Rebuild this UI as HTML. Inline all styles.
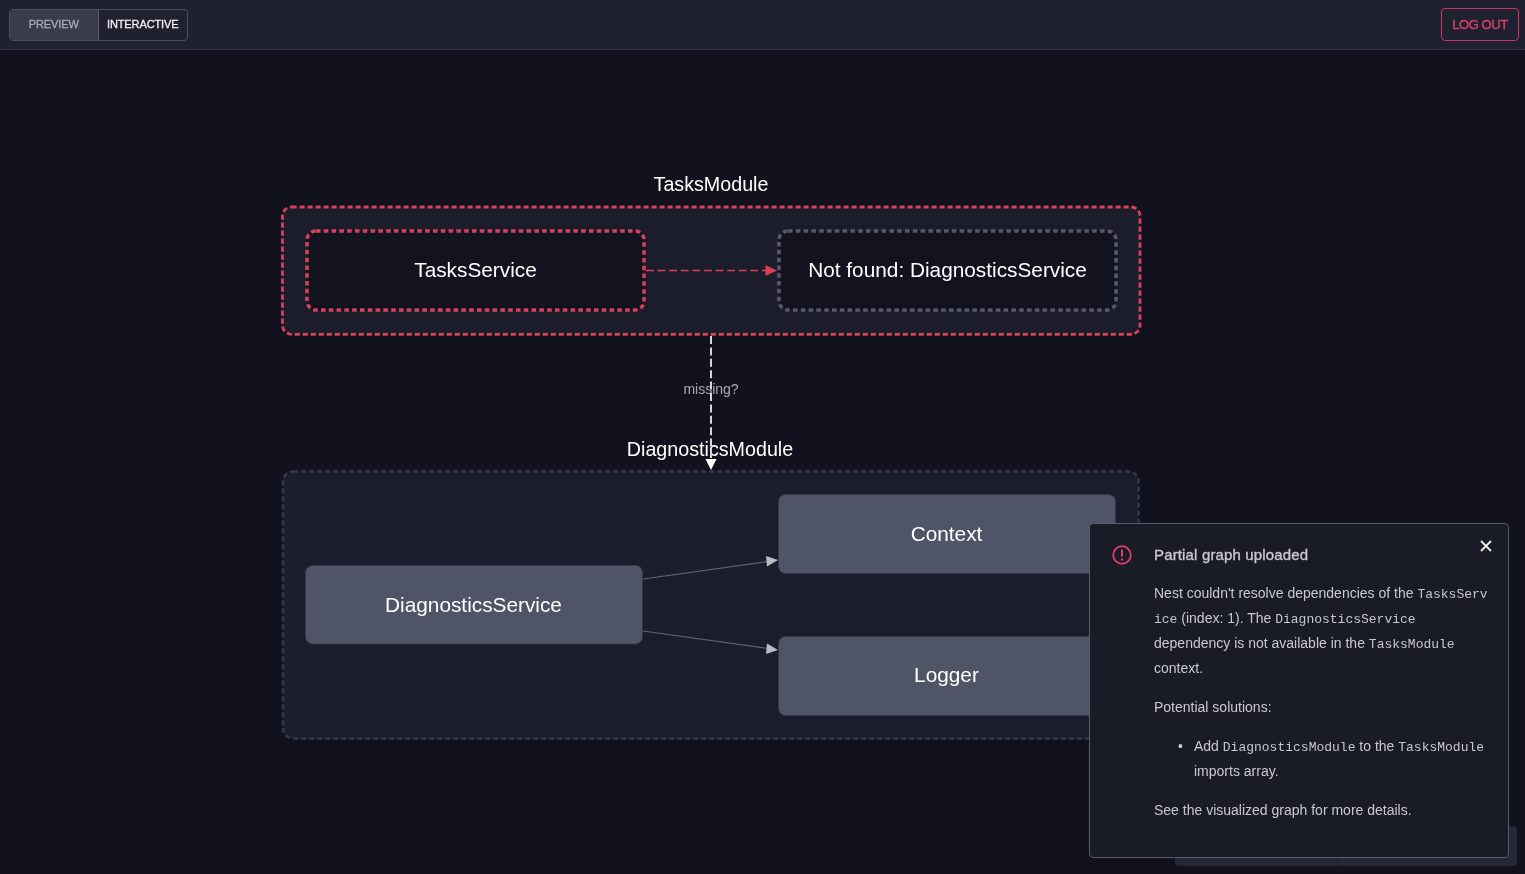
<!DOCTYPE html>
<html><head><meta charset="utf-8">
<style>
*{margin:0;padding:0;box-sizing:border-box}
html,body{width:1525px;height:874px;overflow:hidden;background:#11121d;font-family:"Liberation Sans",sans-serif}
#hdr{will-change:transform;position:absolute;left:0;top:0;width:1525px;height:50px;background:#1f2131;border-bottom:1px solid #2c2f42}
.bg{position:absolute;left:9px;top:9px;width:179px;height:32px;border:1px solid #4a4d5e;border-radius:4px;overflow:hidden;display:flex}
.bg div{height:30px;line-height:28px;text-align:center;font-size:11px;-webkit-text-stroke:0.3px currentColor;letter-spacing:-0.1px}
.b1{width:89px;background:#3a3c4b;color:#a9abb6;border-right:1px solid #55586a}
.b2{width:89px;color:#f0f0f4}
.lo{position:absolute;left:1441px;top:8px;width:78px;height:33px;border:1px solid #c9365e;border-radius:4px;color:#e0406a;font-size:13px;-webkit-text-stroke:0.3px currentColor;text-align:center;line-height:31px;letter-spacing:-0.4px}
svg{position:absolute;left:0;top:0}
.lbl{position:absolute;color:#fff;white-space:nowrap;text-align:center;will-change:transform}
#toast{position:absolute;left:1089px;top:523px;width:420px;height:335px;background:#191b27;border:1px solid #585b6a;border-radius:4px;color:#c8c9d2;font-size:14px}
#toast p{position:absolute;left:64px;white-space:nowrap;will-change:transform}
code{font-family:"Liberation Mono",monospace;font-size:13px;color:#c6c7cf;line-height:1px}
</style></head><body>
<div id="hdr">
  <div class="bg"><div class="b1">PREVIEW</div><div class="b2">INTERACTIVE</div></div>
  <div class="lo">LOG OUT</div>
</div>

<!-- behind toast -->
<div style="position:absolute;left:1175px;top:826px;width:342px;height:40px;background:#262838;border-radius:4px"></div>
<div style="position:absolute;left:1337px;top:826px;width:1px;height:40px;background:#1c1e2b"></div>

<svg width="1525" height="874" viewBox="0 0 1525 874">
  <!-- TasksModule -->
  <rect x="282.5" y="207" width="857.5" height="127.3" rx="9" fill="#1c1d2b" stroke="#d9405e" stroke-width="2.8" stroke-dasharray="5.2 2.8"/>
  <rect x="307" y="231" width="337" height="79" rx="9" fill="#13131f" stroke="#d9405e" stroke-width="3.5" stroke-dasharray="4.5 3.3"/>
  <rect x="779" y="231" width="337" height="79" rx="9" fill="#13131f" stroke="#565968" stroke-width="3.6" stroke-dasharray="4.5 3.3"/>
  <line x1="646" y1="270.5" x2="767" y2="270.5" stroke="#d9405e" stroke-width="1.3" stroke-dasharray="7.8 3.8"/>
  <path d="M765.5 265 L777 270.5 L765.5 276 Z" fill="#d9405e"/>
  <!-- DiagnosticsModule -->
  <rect x="283" y="471.5" width="855.5" height="267" rx="10" fill="#1c1d2c" stroke="#33374a" stroke-width="2.6" stroke-dasharray="5.2 2.8"/>
  <rect x="305.5" y="565.5" width="337" height="78.5" rx="7" fill="#505467" stroke="#34374a" stroke-width="1"/>
  <rect x="778.5" y="494.5" width="337" height="79" rx="7" fill="#505467" stroke="#34374a" stroke-width="1"/>
  <rect x="778.5" y="636.5" width="337" height="79" rx="7" fill="#505467" stroke="#34374a" stroke-width="1"/>
  <line x1="643" y1="579" x2="768" y2="561.5" stroke="#5f6270" stroke-width="1.2"/>
  <path d="M766 556 L778 560 L767 566.5 Z" fill="#b9bbc3"/>
  <line x1="643" y1="631" x2="768" y2="648.5" stroke="#5f6270" stroke-width="1.2"/>
  <path d="M767 643.5 L778 650 L766 654 Z" fill="#b9bbc3"/>
</svg>

<div class="lbl" style="left:555px;top:173px;width:312px;font-size:19.7px">TasksModule</div>
<div class="lbl" style="left:307px;top:258px;width:337px;font-size:20.8px">TasksService</div>
<div class="lbl" style="left:779px;top:258px;width:337px;font-size:20.8px">Not found: DiagnosticsService</div>
<div class="lbl" style="left:611px;top:381px;width:200px;font-size:14px;color:#a9abb4">missing?</div>
<div class="lbl" style="left:510px;top:438px;width:400px;font-size:19.7px">DiagnosticsModule</div>
<svg width="1525" height="874" viewBox="0 0 1525 874" style="pointer-events:none">
  <line x1="711" y1="336" x2="711" y2="460" stroke="#d6d6da" stroke-width="2" stroke-dasharray="8 3.4"/>
  <path d="M705.5 459 L716.5 459 L711 470 Z" fill="#fff"/>
</svg>
<div class="lbl" style="left:305px;top:593px;width:337px;font-size:20.8px">DiagnosticsService</div>
<div class="lbl" style="left:778px;top:522px;width:337px;font-size:20.8px">Context</div>
<div class="lbl" style="left:778px;top:663px;width:337px;font-size:20.8px">Logger</div>

<div id="toast">
  <svg width="22" height="22" viewBox="0 0 22 22" style="left:21px;top:20px">
    <circle cx="11" cy="11" r="8.8" fill="none" stroke="#e0406a" stroke-width="1.8"/>
    <rect x="10" y="5.5" width="2" height="7" fill="#e0406a"/>
    <rect x="10" y="14.5" width="2" height="2" fill="#e0406a"/>
  </svg>
  <p style="top:22px;font-size:15px;-webkit-text-stroke:0.35px #c8c9d2;color:#c8c9d2;letter-spacing:0.15px">Partial graph uploaded</p>
  <svg width="14" height="14" viewBox="0 0 14 14" style="left:389px;top:15px">
    <path d="M2 2 L12 12 M12 2 L2 12" stroke="#eee" stroke-width="1.8"/>
  </svg>
  <p style="top:57px;line-height:25px">Nest couldn't resolve dependencies of the <code>TasksServ</code><br><code>ice</code> (index: 1). The <code>DiagnosticsService</code><br>dependency is not available in the <code>TasksModule</code><br>context.</p>
  <p style="top:175px">Potential solutions:</p>
  <p style="top:210px;left:104px;line-height:25px"><span style="position:absolute;left:-16px">•</span>Add <code>DiagnosticsModule</code> to the <code>TasksModule</code><br>imports array.</p>
  <p style="top:278px">See the visualized graph for more details.</p>
</div>
</body></html>
